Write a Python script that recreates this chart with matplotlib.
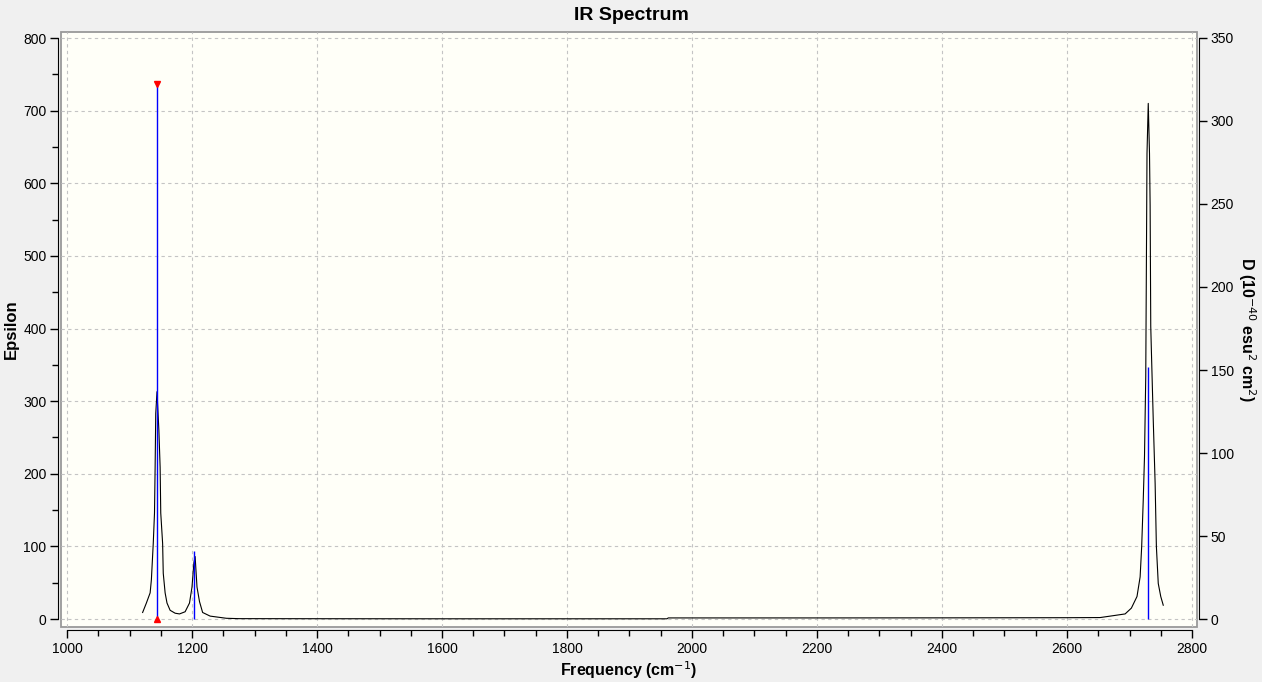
import numpy as np
import matplotlib
matplotlib.use("Agg")
import matplotlib.pyplot as plt
from matplotlib.ticker import MultipleLocator

# broadened spectrum (cm-1, epsilon)
freq = [1121, 1127, 1133, 1135, 1138, 1140, 1141, 1142, 1144, 1147, 1149,
        1150, 1153, 1154, 1157, 1160, 1165, 1173, 1180, 1189, 1196, 1200,
        1203, 1205, 1206, 1208, 1212, 1217, 1229, 1255, 1275, 1400, 1600,
        1960, 1962, 2200, 2400, 2600, 2653, 2674, 2693, 2703, 2712, 2717,
        2719.5, 2722, 2724, 2726, 2727, 2728, 2730, 2732, 2733, 2734, 2735,
        2738, 2741, 2743, 2746, 2750, 2754]
epsilon = [9, 22, 36, 54, 104, 146, 209, 283, 313, 260, 209,
           146, 104, 63, 36, 22, 12, 8, 7, 10, 22, 44,
           77, 86, 72, 44, 24, 9, 4, 1, 0.5, 0.4, 0.3,
           0.3, 1.5, 1.5, 1.6, 1.8, 2, 4.6, 7, 15, 31, 58,
           100, 164, 224, 334, 485, 641, 710, 641, 570, 403, 370,
           274, 187, 100, 49, 31, 19]

# stick intensities (D, 10^-40 esu^2 cm^2)
stick_freq = [1144.5, 1203.7, 2730]
stick_d = [322.5, 41, 152]
selected = 0

plt.rcParams['font.family'] = ['Liberation Sans', 'DejaVu Sans']

fig = plt.figure(figsize=(12.62, 6.82), dpi=100, facecolor='#f0f0f0')
ax = fig.add_axes([61 / 1262, 1 - 627 / 682, 1136 / 1262, 595 / 682])
ax.set_facecolor('#fffff8')
ax.patch.set_edgecolor('#999999')
ax.patch.set_linewidth(1.3)

ax.plot(freq, epsilon, color='black', lw=0.8, zorder=3)

ax.set_xlim(990.4, 2808)
ax.set_ylim(-11, 808.3)
ax.xaxis.set_major_locator(MultipleLocator(200))
ax.xaxis.set_minor_locator(MultipleLocator(50))
ax.yaxis.set_major_locator(MultipleLocator(100))
ax.yaxis.set_minor_locator(MultipleLocator(50))
ax.grid(True, which='major', ls=(0, (3, 3)), color='#c4c4c4', lw=0.8)
ax.set_axisbelow(True)

for s in ('top', 'right'):
    ax.spines[s].set_visible(False)
ax.spines['left'].set_position(('outward', 2.2))
ax.spines['left'].set_bounds(0, 800)
ax.spines['bottom'].set_position(('outward', 2.2))
ax.spines['bottom'].set_bounds(1000, 2800)
ax.tick_params(which='major', length=5.8, width=1, labelsize=10, pad=2.5)
ax.tick_params(which='minor', length=4, width=1)

ax2 = ax.twinx()
ax2.set_ylim(-4.8, 353.6)
ax2.yaxis.set_major_locator(MultipleLocator(50))
for s in ('top', 'left', 'bottom'):
    ax2.spines[s].set_visible(False)
ax2.spines['right'].set_position(('outward', 1.5))
ax2.spines['right'].set_bounds(0, 350)
ax2.tick_params(which='major', length=5.8, width=1, labelsize=10, pad=2.5)

ax2.vlines(stick_freq, 0, stick_d, color='#0000ff', lw=1, zorder=4)
ax2.plot(stick_freq[selected], stick_d[selected], marker='v', color='red',
         ms=5, zorder=5, clip_on=False)
ax2.plot(stick_freq[selected], 0, marker='^', color='red', ms=5, zorder=5,
         clip_on=False)

fig.text(0.5, 1 - 15 / 682, 'IR Spectrum', ha='center', va='center',
         fontsize=14, fontweight='bold')
ax.set_xlabel('Frequency (cm$^{-1}$)', fontsize=11.5, fontweight='bold',
              labelpad=3)
ax.set_ylabel('Epsilon', fontsize=12, fontweight='bold', labelpad=3)
ax2.set_ylabel('D (10$^{-40}$ esu$^{2}$ cm$^{2}$)', fontsize=11.5,
               fontweight='bold', rotation=-90, labelpad=17)

fig.savefig('out.png', dpi=100, facecolor=fig.get_facecolor())
